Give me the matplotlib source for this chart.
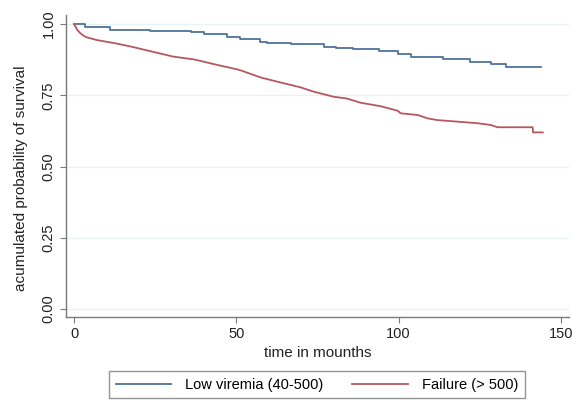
"""
Kaplan-Meier style survival curves by viremia group
"""

import matplotlib
matplotlib.use("Agg")
import matplotlib.pyplot as plt

plt.rcParams["font.family"] = ["Liberation Sans", "DejaVu Sans"]

# survival readings (time in months, cumulative probability)
low_t = [0, 3.4, 11, 23.5, 36, 40, 47, 51, 57.4, 59.5, 66.7, 77, 80.6, 85.8,
         93.8, 99.7, 103.7, 113.6, 122, 128.4, 133, 143.8]
low_s = [1.0, 0.990, 0.981, 0.977, 0.971, 0.964, 0.956, 0.947, 0.938, 0.934,
         0.929, 0.920, 0.915, 0.911, 0.906, 0.896, 0.885, 0.876, 0.866, 0.859,
         0.850, 0.850]

fail_t = [0, 1, 2, 3.5, 7, 13, 18, 23.5, 30.5, 37, 44, 48, 51, 57.4, 62.6,
          69.8, 73.8, 80, 84, 88.3, 94.4, 99.7, 100.6, 105.9, 109, 112, 119,
          124.4, 128.4, 130.5, 141.3, 141.4, 144.4]
fail_s = [1.0, 0.979, 0.967, 0.955, 0.944, 0.932, 0.920, 0.905, 0.886, 0.876,
          0.857, 0.847, 0.839, 0.813, 0.798, 0.778, 0.763, 0.745, 0.739, 0.724,
          0.712, 0.696, 0.687, 0.681, 0.669, 0.663, 0.657, 0.652, 0.646, 0.638,
          0.638, 0.620, 0.620]

labels = ["Low viremia (40-500)", "Failure (> 500)"]
colors = ["#4e7399", "#b5585d"]
x_ticks = [0, 50, 100, 150]
y_ticks = [0.0, 0.25, 0.5, 0.75, 1.0]

fig = plt.figure(figsize=(5.72, 4.0), dpi=100)
ax = fig.add_axes([0.1154, 0.2075, 0.8794, 0.755])

ax.plot(low_t, low_s, drawstyle="steps-post", color=colors[0], lw=1.3, label=labels[0])
ax.plot(fail_t, fail_s, color=colors[1], lw=1.3, label=labels[1])

ax.set_xlim(-2.5, 152.5)
ax.set_ylim(-0.028, 1.032)
ax.set_xticks(x_ticks)
ax.set_yticks(y_ticks)
ax.set_yticklabels([f"{v:.2f}" for v in y_ticks], rotation=90, va="center")
ax.tick_params(colors="#7a7a7a", labelcolor="#222222", labelsize=10.5, length=4, width=0.8)

ax.grid(axis="y", color="#eaf2f3", lw=1)
ax.set_axisbelow(True)
for side in ["top", "right"]:
    ax.spines[side].set_visible(False)
for side in ["left", "bottom"]:
    ax.spines[side].set_color("#7a7a7a")
    ax.spines[side].set_linewidth(1)

ax.set_xlabel("time in mounths", fontsize=11, color="#222222", labelpad=3)
ax.set_ylabel("acumulated probability of survival", fontsize=11, color="#222222")
ax.yaxis.set_label_coords(-0.076, 0.46)

leg = fig.legend(loc="lower center", bbox_to_anchor=(0.554, 0.004), ncol=2,
                 fontsize=10.5, frameon=True, fancybox=False, handlelength=3.8,
                 handletextpad=0.95, columnspacing=2.0, borderpad=0.45,
                 borderaxespad=0)
leg.get_frame().set_edgecolor("#7a7a7a")
leg.get_frame().set_linewidth(1)

fig.savefig("out.png", dpi=100)
